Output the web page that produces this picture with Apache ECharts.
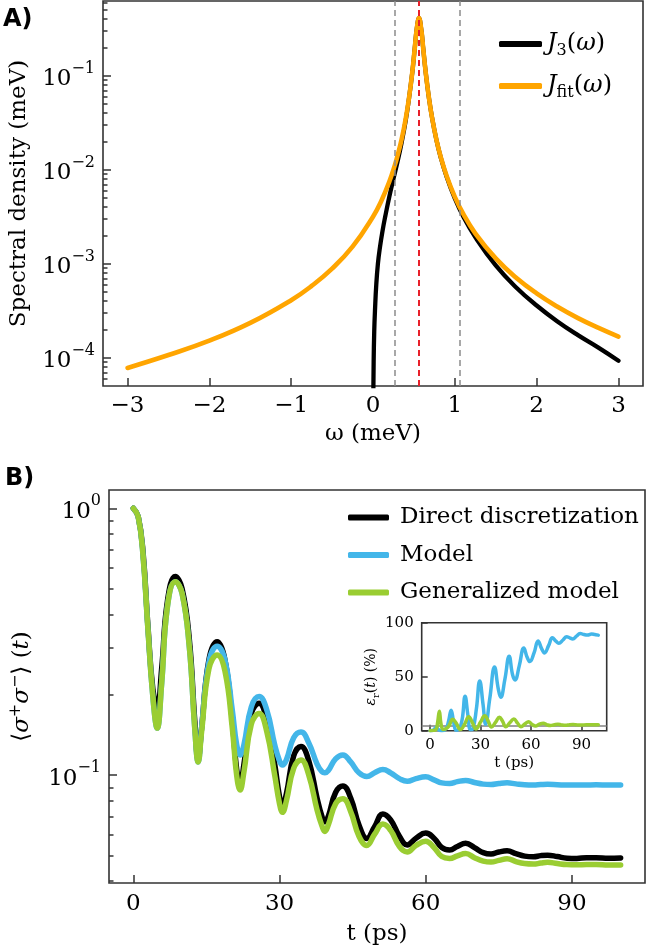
<!DOCTYPE html>
<html>
<head>
<meta charset="utf-8">
<title>Spectral density and population</title>
<script src="https://cdn.jsdelivr.net/npm/echarts@6/dist/echarts.min.js"></script>
<style>
  html, body { margin: 0; padding: 0; background: #fff; }
  #chart { width: 646px; height: 951px; }
</style>
</head>
<body>
<div id="chart"></div>
<script>
// ---- panel A: spectral densities (meV) ----
const jfitOmega = [-3, -2.5, -2, -1.5, -1, -0.75, -0.5, -0.25, 0, 0.1, 0.2, 0.27, 0.3, 0.35, 0.4, 0.44, 0.48, 0.51, 0.535, 0.562,
  0.59, 0.615, 0.645, 0.685, 0.725, 0.775, 0.825, 0.9, 1.0, 1.1, 1.25, 1.5, 1.75, 2.0, 2.25, 2.5, 2.75, 3.0]
const jfitValues = [7.8e-5, 1.07e-4, 1.52e-4, 2.35e-4, 4.1e-4, 5.81e-4, 8.87e-4, 1.52e-3, 3.17e-3, 4.63e-3, 7.5e-3, 1.14e-2, 1.41e-2, 2.11e-2, 3.5e-2, 5.8e-2, 0.109, 0.195, 0.315, 0.41,
  0.31, 0.19, 0.107, 5.7e-2, 3.45e-2, 2.09e-2, 1.4e-2, 8.6e-3, 5.15e-3, 3.43e-3, 2.11e-3, 1.14e-3, 7.09e-4, 4.84e-4, 3.51e-4, 2.66e-4, 2.09e-4, 1.68e-4]

const j3Omega = [0, 0.003, 0.008, 0.015, 0.025, 0.04, 0.06, 0.085, 0.115, 0.15, 0.2, 0.25, 0.3, 0.35, 0.4, 0.44, 0.48, 0.51, 0.535, 0.562,
  0.59, 0.615, 0.645, 0.685, 0.725, 0.775, 0.825, 0.9, 1.0, 1.1, 1.25, 1.5, 1.75, 2.0, 2.25, 2.5, 2.75, 3.0]
const j3Values = [1e-6, 2.5e-5, 9e-5, 1.9e-4, 3.3e-4, 6e-4, 1.0e-3, 1.5e-3, 2.2e-3, 3.2e-3, 5.2e-3, 8.0e-3, 1.22e-2, 1.95e-2, 3.35e-2, 5.75e-2, 0.108, 0.195, 0.315, 0.41,
  0.31, 0.19, 0.107, 5.7e-2, 3.45e-2, 2.08e-2, 1.38e-2, 8.4e-3, 4.95e-3, 3.22e-3, 1.92e-3, 9.6e-4, 5.6e-4, 3.6e-4, 2.45e-4, 1.75e-4, 1.29e-4, 9.3e-5]

const cutoffOmega = [0.27, 1.06]   // grey dashed
const peakOmega = [0.562]          // red dashed
const omegaTicks = [-3, -2, -1, 0, 1, 2, 3]
const densityMajor = [1e-4, 1e-3, 1e-2, 1e-1]
const densityMinor = [6e-5, 7e-5, 8e-5, 9e-5, 2e-4, 3e-4, 4e-4, 5e-4, 6e-4, 7e-4, 8e-4, 9e-4,
  2e-3, 3e-3, 4e-3, 5e-3, 6e-3, 7e-3, 8e-3, 9e-3, 2e-2, 3e-2, 4e-2, 5e-2, 6e-2, 7e-2, 8e-2, 9e-2, 0.2, 0.3, 0.4, 0.5, 0.6]

// ---- panel B: excited state population ----
const timePs = [0, 1, 2, 3, 4, 4.9, 5.8, 7, 8.6, 10, 11.5, 12.6, 13.3, 14, 15.5, 17.2, 18.8, 20.3, 21.2, 21.9,
  22.7, 24.2, 25.8, 27.4, 29, 30, 30.6, 31.4, 32.9, 34.4, 36, 37.7, 38.7, 39.3, 40, 41.5, 43, 44.6, 46.3, 47.9,
  49.5, 51.2, 52.8, 54.6, 56.2, 58, 60, 61.7, 63.3, 64.9, 66.5, 68.2, 70, 71.8, 73.4, 75, 76.7, 78.5, 80.3, 82.1,
  83.6, 85, 87, 89, 91, 93, 95, 97.5, 100]
const popDirect = [1.0, 0.93, 0.68, 0.36, 0.21, 0.18, 0.25, 0.45, 0.555, 0.50, 0.32, 0.16, 0.115, 0.15, 0.27, 0.316, 0.27, 0.16, 0.105, 0.093,
  0.11, 0.17, 0.186, 0.16, 0.11, 0.083, 0.0772, 0.085, 0.118, 0.128, 0.113, 0.082, 0.07, 0.0668, 0.07, 0.086, 0.091, 0.082, 0.065, 0.0579,
  0.064, 0.0715, 0.068, 0.059, 0.0547, 0.058, 0.0606, 0.058, 0.0535, 0.0524, 0.054, 0.0555, 0.0535, 0.0512, 0.0506, 0.0515, 0.052, 0.0508, 0.0497, 0.0494,
  0.0499, 0.0501, 0.0495, 0.0488, 0.0487, 0.049, 0.049, 0.0488, 0.0489]
const popModel = [1.0, 0.93, 0.66, 0.35, 0.197, 0.15, 0.22, 0.43, 0.531, 0.48, 0.30, 0.15, 0.112, 0.15, 0.265, 0.304, 0.27, 0.175, 0.13, 0.119,
  0.13, 0.18, 0.197, 0.175, 0.13, 0.113, 0.109, 0.114, 0.138, 0.145, 0.132, 0.11, 0.103, 0.102, 0.104, 0.115, 0.119, 0.112, 0.102, 0.0988,
  0.102, 0.105, 0.102, 0.097, 0.0948, 0.097, 0.0985, 0.096, 0.0935, 0.093, 0.0945, 0.0955, 0.0938, 0.0925, 0.0922, 0.093, 0.0935, 0.0927, 0.092, 0.0918,
  0.0921, 0.0923, 0.092, 0.0917, 0.0917, 0.0918, 0.0919, 0.0918, 0.0918]
const popGeneral = [1.0, 0.93, 0.66, 0.35, 0.197, 0.15, 0.22, 0.43, 0.531, 0.48, 0.30, 0.15, 0.112, 0.145, 0.25, 0.282, 0.245, 0.15, 0.1, 0.088,
  0.103, 0.155, 0.17, 0.145, 0.1, 0.078, 0.0725, 0.08, 0.106, 0.114, 0.1, 0.074, 0.0645, 0.0615, 0.065, 0.078, 0.0815, 0.073, 0.059, 0.0545,
  0.06, 0.0655, 0.062, 0.054, 0.0515, 0.0545, 0.0565, 0.0535, 0.0495, 0.0487, 0.0498, 0.0508, 0.049, 0.0476, 0.0472, 0.0479, 0.0486, 0.0474, 0.0466, 0.0464,
  0.0468, 0.0471, 0.0466, 0.0462, 0.0461, 0.0462, 0.0462, 0.046, 0.046]

const timeTicks = [0, 30, 60, 90]
const popMajor = [0.1, 1]
const popMinor = [0.04, 0.05, 0.06, 0.07, 0.08, 0.09, 0.2, 0.3, 0.4, 0.5, 0.6, 0.7, 0.8, 0.9]

// ---- inset: relative error (%) ----
const errTimeModel = [0, 2, 3.5, 5, 7, 9.5, 11, 12.5, 14, 15.5, 17, 19, 20.8, 22.5, 24, 25.5, 27.5, 29.5, 31.5, 33,
  35.5, 38.3, 40.5, 42, 44.5, 47, 49, 50.5, 53, 55.7, 57.7, 59.3, 61.8, 64.2, 66.3, 68, 70.5, 72.7, 74.8, 76.5,
  79, 81.2, 83, 84.8, 87, 89.2, 91.5, 93.5, 96, 98, 100]
const errModel = [0, 0.5, 3, 1, 0, 2, 9, 19, 8, 0.5, 1, 10, 32, 14, 1, 2, 20, 46, 24, 6,
  30, 59, 39, 31, 48, 69, 52, 47, 60, 76.5, 68, 64, 72, 83, 76, 72, 79, 86, 83, 81,
  84, 87, 86, 85, 87.5, 90, 89, 88.5, 89.5, 89, 88.5]
const errTimeGeneral = [0, 2, 3.5, 4.5, 5.5, 6.5, 7.8, 9, 11, 13.5, 15.5, 18, 20.5, 23, 25, 27.3, 30, 32.5, 34.5, 36.5,
  39, 41.2, 43, 45, 47.5, 49.8, 52, 54, 56.5, 58.5, 60.5, 62.7, 65, 67.3, 69.5, 71.5, 74, 76, 78, 80.5,
  83, 85, 87, 90, 93, 96, 100]
const errGeneral = [0, 0.3, 1, 8, 18, 6, 1, 1.5, 4, 10.5, 7, 1, 6, 13, 8, 1.5, 8, 13.8, 9, 3.5,
  8, 12.5, 9, 3.7, 7.5, 10.8, 7, 3.7, 6.5, 8.4, 6, 4.3, 6, 6.8, 5.4, 4.8, 5.6, 6, 5.4, 5,
  5.6, 5.8, 5.4, 5.2, 5.6, 5.5, 5.5]
const errBaseline = [5]
const errTicksX = [0, 30, 60, 90]
const errTicksY = [0, 50, 100]

// ---- drawing ----
const serif = 'DejaVu Serif'
const ink = '#333'
const zip = (xs, ys) => xs.map((x, i) => [x, ys[i]])
const minusFmt = v => (v < 0 ? '\u2212' + Math.abs(v) : String(v))
const powFmt = v => {
  const e = Math.round(Math.log10(v))
  return '{b|10}{s|' + (e < 0 ? '\u2212' + (-e) : e) + '}'
}
const powRich = {
  b: { fontFamily: serif, fontSize: 23, lineHeight: 30, color: '#000', verticalAlign: 'bottom' },
  s: { fontFamily: serif, fontSize: 16, lineHeight: 12, color: '#000', verticalAlign: 'top' }
}
const mathRich = size => ({
  r: { fontFamily: serif, fontSize: size, lineHeight: size + 6, color: '#000' },
  i: { fontFamily: serif, fontStyle: 'italic', fontSize: size, lineHeight: size + 6, color: '#000' },
  sub: { fontFamily: serif, fontSize: Math.round(size * 0.68), lineHeight: Math.round(size * 0.6), color: '#000', verticalAlign: 'bottom' },
  sup: { fontFamily: serif, fontSize: Math.round(size * 0.68), lineHeight: Math.round(size * 0.5), color: '#000', verticalAlign: 'top' }
})

const tickStyle = (vals, len) => ({ show: true, inside: true, length: len, customValues: vals, lineStyle: { color: ink, width: 1.5 } })
const noLine = { show: false, onZero: false }
const noSplit = { show: false }

const valueX = (grid, min, max, ticks, size, margin, name, gap, tickLen) => ({
  gridIndex: grid, type: 'value', min: min, max: max,
  axisLine: noLine, splitLine: noSplit,
  axisTick: tickStyle(ticks, tickLen),
  axisLabel: { customValues: ticks, formatter: minusFmt, fontFamily: serif, fontSize: size, color: '#000', margin: margin },
  name: name, nameLocation: 'middle', nameGap: gap,
  nameTextStyle: { fontFamily: serif, fontSize: size, color: '#000' }
})

const logY = (grid, min, max, major, minor) => ([
  {
    gridIndex: grid, type: 'log', min: min, max: max, position: 'left',
    axisLine: noLine, splitLine: noSplit,
    axisTick: tickStyle(major, 8),
    axisLabel: { customValues: major, formatter: powFmt, rich: powRich, margin: 8 }
  },
  {
    gridIndex: grid, type: 'log', min: min, max: max, position: 'left',
    axisLine: noLine, splitLine: noSplit,
    axisTick: tickStyle(minor, 4.5),
    axisLabel: { show: false }
  }
])

const curve = (name, xi, yi, data, color, width, z) => ({
  name: name, type: 'line', xAxisIndex: xi, yAxisIndex: yi, data: data,
  showSymbol: false, symbol: 'none', smooth: 0.45,
  color: color, lineStyle: { color: color, width: width, cap: 'round', join: 'round' },
  z: z, silent: true, animation: false
})

const chart = echarts.init(document.getElementById('chart'), null, { renderer: 'canvas' })

const yA = logY(0, 5.01e-5, 0.624, densityMajor, densityMinor)
yA[0].name = 'Spectral density (meV)'
yA[0].nameLocation = 'middle'
yA[0].nameGap = 72
yA[0].nameTextStyle = { fontFamily: serif, fontSize: 23, color: '#000' }

const yB = logY(1, 0.0394, 1.171, popMajor, popMinor)
yB[0].name = '{r|\u27e8}{i|\u03c3}{sup|+}{i|\u03c3}{sup|\u2212}{r|\u27e9 (}{i|t}{r|)}'
yB[0].nameLocation = 'middle'
yB[0].nameGap = 72
yB[0].nameTextStyle = { rich: mathRich(23) }

const yInset = {
  gridIndex: 2, type: 'value', min: 0, max: 100, position: 'left',
  axisLine: noLine, splitLine: noSplit,
  axisTick: tickStyle(errTicksY, 6),
  axisLabel: { customValues: errTicksY, fontFamily: serif, fontSize: 15, color: '#000', margin: 8 },
  name: '{i|\u03b5}{sub|r}{r|(}{i|t}{r|) (%)}', nameLocation: 'middle', nameGap: 34,
  nameTextStyle: { rich: mathRich(14) }
}

const dashed = (vals, color, width) => vals.map(v => ({
  xAxis: v, lineStyle: { color: color, type: [6, 4], width: width }
}))

chart.setOption({
  backgroundColor: '#fff',
  animation: false,
  title: [
    { text: 'A)', left: 3, top: 8, padding: 0, textStyle: { fontFamily: 'DejaVu Sans', fontWeight: 'bold', fontSize: 24, color: '#000' } },
    { text: 'B)', left: 5, top: 467, padding: 0, textStyle: { fontFamily: 'DejaVu Sans', fontWeight: 'bold', fontSize: 24, color: '#000' } }
  ],
  grid: [
    { left: 102.5, top: 1, width: 540.5, height: 385, show: true, borderColor: ink, borderWidth: 1.6, backgroundColor: 'transparent' },
    { left: 102, top: 490, width: 543, height: 393, show: true, borderColor: ink, borderWidth: 1.6, backgroundColor: 'transparent' },
    { left: 421.7, top: 622.7, width: 185, height: 108, show: true, borderColor: ink, borderWidth: 1.6, backgroundColor: '#fff' }
  ],
  legend: [
    {
      data: [{ name: 'J3', icon: 'roundRect' }, { name: 'Jfit', icon: 'roundRect' }],
      orient: 'vertical', left: 494, top: 24, itemWidth: 43, itemHeight: 6, itemGap: 12,
      selectedMode: false,
      formatter: n => n === 'J3' ? '{i|J}{sub|3}{r|(}{i|\u03c9}{r|)}' : '{i|J}{sub|fit}{r|(}{i|\u03c9}{r|)}',
      textStyle: { rich: mathRich(24), lineHeight: 30 }
    },
    {
      data: [{ name: 'Direct discretization', icon: 'roundRect' }, { name: 'Model', icon: 'roundRect' }, { name: 'Generalized model', icon: 'roundRect' }],
      orient: 'vertical', left: 343, top: 499, itemWidth: 41, itemHeight: 6, itemGap: 10.5,
      selectedMode: false,
      textStyle: { fontFamily: serif, fontSize: 23, color: '#000', lineHeight: 27, padding: [0, 0, 0, 6] }
    }
  ],
  xAxis: [
    valueX(0, -3.3, 3.3, omegaTicks, 23, 9, '\u03c9 (meV)', 37, 8),
    valueX(1, -5, 105, timeTicks, 23, 10, 't (ps)', 40, 8),
    valueX(2, -5, 105, errTicksX, 15, 7, 't (ps)', 25, 6)
  ],
  yAxis: [yA[0], yA[1], yB[0], yB[1], yInset],
  series: [
    curve('J3', 0, 0, zip(j3Omega, j3Values), '#000000', 4.3, 2),
    curve('Jfit', 0, 0, zip(jfitOmega, jfitValues), '#ffa500', 4.6, 3),
    {
      name: 'guides', type: 'line', xAxisIndex: 0, yAxisIndex: 0, data: [], z: 5, silent: true,
      markLine: {
        silent: true, symbol: ['none', 'none'], label: { show: false }, animation: false,
        data: dashed(cutoffOmega, '#8c8c8c', 1.5).concat(dashed(peakOmega, '#e8202a', 2))
      }
    },
    curve('Direct discretization', 1, 2, zip(timePs, popDirect), '#000000', 5.5, 2),
    curve('Model', 1, 2, zip(timePs, popModel), '#43b6e9', 5.5, 3),
    curve('Generalized model', 1, 2, zip(timePs, popGeneral), '#9acd32', 5.5, 4),
    curve('Model error', 2, 4, zip(errTimeModel, errModel), '#43b6e9', 3.5, 6),
    curve('Generalized error', 2, 4, zip(errTimeGeneral, errGeneral), '#9acd32', 3.5, 7),
    {
      name: 'baseline', type: 'line', xAxisIndex: 2, yAxisIndex: 4, data: [], z: 8, silent: true,
      markLine: {
        silent: true, symbol: ['none', 'none'], label: { show: false }, animation: false,
        data: errBaseline.map(v => ({ yAxis: v, lineStyle: { color: '#808080', type: 'solid', width: 1.5 } }))
      }
    }
  ]
})
</script>
</body>
</html>
